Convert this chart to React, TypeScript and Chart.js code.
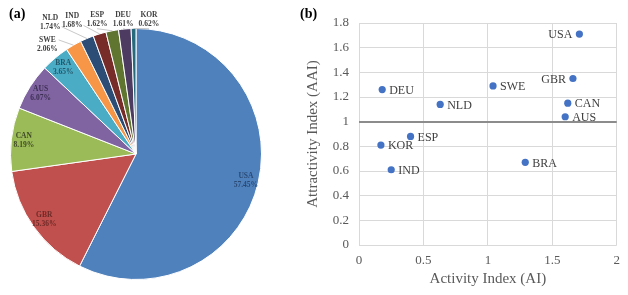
import React, { useEffect, useRef } from 'react';
import { Chart, registerables } from 'chart.js';

Chart.register(...registerables);

// ---- Panel (a): share of publications ----
const shareCountries = ['USA', 'GBR', 'CAN', 'AUS', 'BRA', 'SWE', 'NLD', 'IND', 'ESP', 'DEU', 'KOR'];
const shareValues = [57.45, 15.36, 8.19, 6.07, 3.65, 2.06, 1.74, 1.68, 1.62, 1.61, 0.62];
const shareColors = ['#4F81BD', '#C0504D', '#9BBB59', '#8064A2', '#4BACC6', '#F79646', '#2C4D75', '#772C2A', '#5F7530', '#4D3B62', '#276A7C'];
const shareLabelColors = ['#2b4a73', '#6e2a28', '#3f4a25', '#3c2f52', '#24586a', '#404040', '#404040', '#404040', '#404040', '#404040', '#404040'];
const shareLabelOutside = [false, false, false, false, false, true, true, true, true, true, true];
// label anchor offsets for outside labels, in units of the pie radius from its centre
const shareLabelOffsets: (number[] | null)[] = [null, null, null, null, null,
  [-0.706, -0.873], [-0.683, -1.05], [-0.508, -1.06], [-0.31, -1.07], [-0.103, -1.07], [0.103, -1.07]];

// ---- Panel (b): activity vs attractivity ----
const scatterCountries = ['USA', 'GBR', 'SWE', 'DEU', 'NLD', 'CAN', 'AUS', 'ESP', 'KOR', 'IND', 'BRA'];
const activityIndex = [1.71, 1.66, 1.04, 0.18, 0.63, 1.62, 1.60, 0.40, 0.17, 0.25, 1.29];
const attractivityIndex = [1.71, 1.35, 1.29, 1.26, 1.14, 1.15, 1.04, 0.88, 0.81, 0.61, 0.67];
const scatterLabelSide = ['left', 'left', 'right', 'right', 'right', 'right', 'right', 'right', 'right', 'right', 'right'];

const SERIF = '"Times New Roman", "Liberation Serif", serif';

const pieLabelPlugin = {
  id: 'pieLabels',
  afterDatasetsDraw(chart: any) {
    const ctx = chart.ctx;
    const meta = chart.getDatasetMeta(0);
    ctx.save();
    ctx.font = `bold 7.5px ${SERIF}`;
    ctx.textAlign = 'center';
    ctx.textBaseline = 'middle';
    meta.data.forEach((arc: any, i: number) => {
      const { x, y, startAngle, endAngle, outerRadius } = arc.getProps(['x', 'y', 'startAngle', 'endAngle', 'outerRadius'], true);
      const mid = (startAngle + endAngle) / 2;
      const name = shareCountries[i];
      const pct = shareValues[i].toFixed(2) + '%';
      let lx: number, ly: number;
      if (!shareLabelOutside[i]) {
        lx = x + Math.cos(mid) * outerRadius * 0.9;
        ly = y + Math.sin(mid) * outerRadius * 0.9;
      } else {
        const off = shareLabelOffsets[i] as number[];
        lx = x + off[0] * outerRadius;
        ly = y + off[1] * outerRadius;
        const px = x + Math.cos(mid) * outerRadius;
        const py = y + Math.sin(mid) * outerRadius;
        const w = Math.max(ctx.measureText(name).width, ctx.measureText(pct).width);
        let sx: number, sy: number;
        if (px - lx > w / 2 + 6) {
          sx = lx + w / 2 + 1;
          sy = ly + (py > ly + 10 ? 4.5 : -4.5);
        } else {
          sx = lx;
          sy = ly + 9;
        }
        ctx.beginPath();
        ctx.strokeStyle = '#b0b0b0';
        ctx.lineWidth = 0.7;
        ctx.moveTo(sx, sy);
        ctx.lineTo(px, py);
        ctx.stroke();
      }
      ctx.fillStyle = shareLabelColors[i];
      ctx.fillText(name, lx, ly - 4.5);
      ctx.fillText(pct, lx, ly + 4.5);
    });
    ctx.restore();
  },
};

const pointLabelPlugin = {
  id: 'pointLabels',
  afterDatasetsDraw(chart: any) {
    const ctx = chart.ctx;
    const meta = chart.getDatasetMeta(0);
    ctx.save();
    ctx.font = `12px ${SERIF}`;
    ctx.fillStyle = '#404040';
    ctx.textBaseline = 'middle';
    meta.data.forEach((pt: any, i: number) => {
      const left = scatterLabelSide[i] === 'left';
      ctx.textAlign = left ? 'right' : 'left';
      ctx.fillText(scatterCountries[i], pt.x + (left ? -7 : 7), pt.y + 1);
    });
    ctx.restore();
  },
};

export default function App() {
  const pieRef = useRef<HTMLCanvasElement>(null);
  const scatRef = useRef<HTMLCanvasElement>(null);

  useEffect(() => {
    const pie = new Chart(pieRef.current as HTMLCanvasElement, {
      type: 'pie',
      data: {
        labels: shareCountries,
        datasets: [{
          data: shareValues,
          backgroundColor: shareColors,
          borderColor: '#ffffff',
          borderWidth: 1,
        }],
      },
      options: {
        animation: false,
        responsive: false,
        maintainAspectRatio: false,
        layout: { padding: { left: 10, right: 38, top: 28, bottom: 15 } },
        plugins: { legend: { display: false }, tooltip: { enabled: false } },
      },
      plugins: [pieLabelPlugin],
    } as any);

    const scat = new Chart(scatRef.current as HTMLCanvasElement, {
      type: 'scatter',
      data: {
        datasets: [{
          data: activityIndex.map((x, i) => ({ x, y: attractivityIndex[i] })),
          backgroundColor: '#4472C4',
          borderColor: '#4472C4',
          pointRadius: 3.6,
          borderWidth: 0,
        }],
      },
      options: {
        animation: false,
        responsive: false,
        maintainAspectRatio: false,
        layout: { padding: { left: 0, right: 10, top: 23, bottom: 0 } },
        plugins: { legend: { display: false }, tooltip: { enabled: false } },
        scales: {
          x: {
            type: 'linear',
            min: 0,
            max: 2,
            ticks: {
              stepSize: 0.5,
              color: '#595959',
              font: { family: SERIF, size: 13 },
              padding: 8,
              callback: (v: any) => String(Number(Number(v).toFixed(1))),
            },
            grid: { color: '#d9d9d9', drawTicks: false },
            border: { display: false },
            title: {
              display: true,
              text: 'Activity Index (AI)',
              color: '#595959',
              font: { family: SERIF, size: 15 },
              padding: { top: 0, bottom: 7 },
            },
            afterFit: (s: any) => { s.height = 50; },
          },
          y: {
            type: 'linear',
            min: 0,
            max: 1.8,
            ticks: {
              stepSize: 0.2,
              color: '#595959',
              font: { family: SERIF, size: 13 },
              padding: 10,
              callback: (v: any) => String(Number(Number(v).toFixed(1))),
            },
            grid: {
              color: (c: any) => (c.tick && Math.abs(c.tick.value - 1) < 1e-6 ? '#8c8c8c' : '#d9d9d9'),
              lineWidth: (c: any) => (c.tick && Math.abs(c.tick.value - 1) < 1e-6 ? 2 : 1),
              drawTicks: false,
            },
            border: { display: false },
            title: {
              display: true,
              text: 'Attractivity Index (AAI)',
              color: '#595959',
              font: { family: SERIF, size: 15 },
              padding: { top: 4, bottom: 0 },
            },
            afterFit: (s: any) => { s.width = 59; },
          },
        },
      },
      plugins: [pointLabelPlugin],
    } as any);

    return () => {
      pie.destroy();
      scat.destroy();
    };
  }, []);

  const titleStyle: React.CSSProperties = {
    position: 'absolute',
    top: 5,
    font: `bold 14px ${SERIF}`,
    color: '#000',
    lineHeight: '17px',
  };

  return (
    <div style={{ position: 'absolute', left: 0, top: 0, width: 628, height: 295, background: '#fff', overflow: 'hidden' }}>
      <canvas ref={pieRef} width={300} height={295} style={{ position: 'absolute', left: 0, top: 0, width: 300, height: 295 }} />
      <canvas ref={scatRef} width={328} height={295} style={{ position: 'absolute', left: 300, top: 0, width: 328, height: 295 }} />
      <div style={{ ...titleStyle, left: 9 }}>(a)</div>
      <div style={{ ...titleStyle, left: 300 }}>(b)</div>
    </div>
  );
}
